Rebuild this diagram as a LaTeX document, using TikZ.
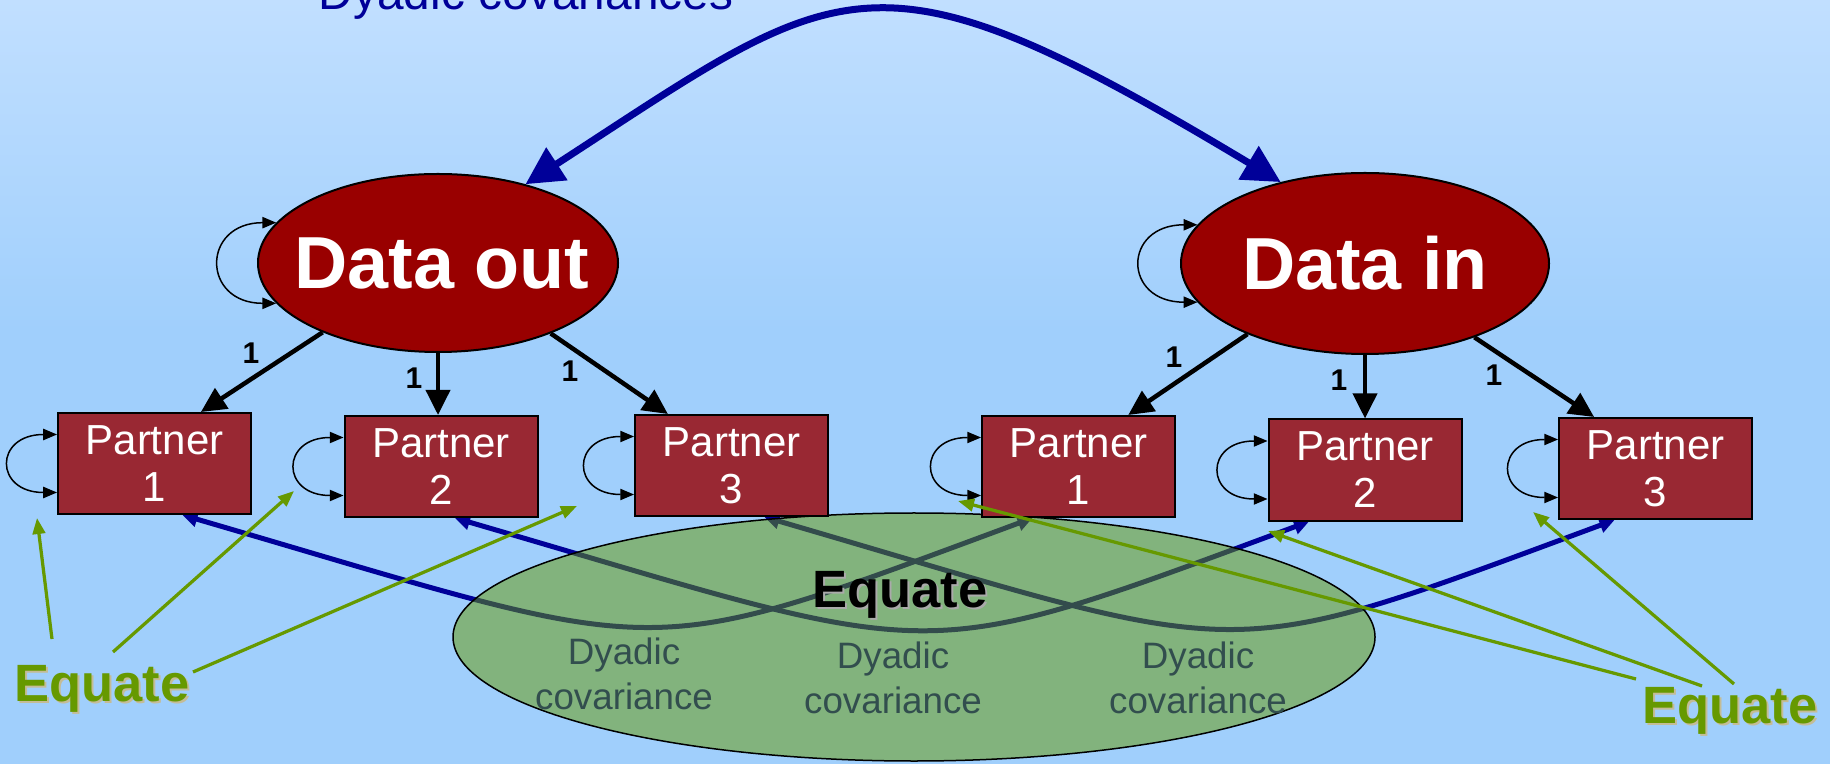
\documentclass[tikz,border=0pt]{standalone}
\usepackage{fontspec}
\setmainfont{Liberation Sans}
\usetikzlibrary{arrows.meta,calc,shapes.geometric}
\definecolor{bgtop}{RGB}{193,223,255}
\definecolor{bgbot}{RGB}{160,207,252}
\definecolor{latred}{RGB}{153,0,0}
\definecolor{boxred}{RGB}{153,40,51}
\definecolor{dblue}{RGB}{0,0,153}
\definecolor{eqgreen}{RGB}{102,153,0}
\definecolor{slate}{RGB}{50,78,78}
\definecolor{tanshadow}{RGB}{196,188,150}
\definecolor{grayshadow}{RGB}{170,170,170}
\pgfdeclarelayer{back}
\pgfdeclarelayer{curves}
\pgfdeclarelayer{veil}
\pgfsetlayers{back,curves,veil,main}
\begin{document}
\begin{tikzpicture}[x=0.4pt,y=-0.4pt,
  latent/.style={ellipse,draw=black,line width=0.8pt,fill=latred,inner sep=0pt},
  bigtext/.style={text=white,font=\fontsize{29.5}{33}\selectfont\bfseries,inner sep=0pt},
  obsbox/.style={rectangle,draw=black,line width=0.8pt,fill=boxred,minimum width=77.2pt,minimum height=40.4pt,inner sep=0pt,text=white,align=center,font=\fontsize{16.8}{18.8}\selectfont},
  loading/.style={line width=1.8pt,-{Triangle[length=10pt,width=9.5pt]}},
  onelabel/.style={font=\fontsize{12}{14}\selectfont\bfseries,inner sep=0pt},
  selfloop/.style={line width=0.6pt,{Triangle[length=5.5pt,width=4.5pt]}-{Triangle[length=5.5pt,width=4.5pt]}},
  dyad/.style={dblue,line width=2pt,{Triangle[length=6pt,width=6pt]}-{Triangle[length=6pt,width=6pt]}},
  bigcov/.style={dblue,line width=2.8pt,{Triangle[length=15pt,width=15pt]}-{Triangle[length=15pt,width=15pt]}},
  eqarrow/.style={eqgreen,line width=1.3pt,-{Triangle[length=6.4pt,width=5pt]}},
  eqtext/.style={font=\fontsize{21}{24}\selectfont\bfseries,inner sep=0pt,anchor=base},
  covtext/.style={text=slate,align=center,font=\fontsize{14.7}{18}\selectfont,inner sep=0pt}
]
\useasboundingbox (0,0) rectangle (1830,764);
\begin{pgfonlayer}{back}
\fill[bgbot] (0,0) rectangle (1830,764);
\shade[top color=bgtop,bottom color=bgbot] (0,0) rectangle (1830,330);
\end{pgfonlayer}

% top label
\node[text=dblue,font=\fontsize{19.1}{22}\selectfont,anchor=base,inner sep=0pt] (toplab) at (526,10) {Dyadic covariances};

% latent variables
\node[latent,minimum width=144pt,minimum height=71.2pt] (dout) at (438,263) {};
\node[bigtext] (douttxt) at ($(dout.center)+(4,0)$) {Data out};
\node[latent,minimum width=147.2pt,minimum height=72.4pt] (din) at (1365,263.5) {};
\node[bigtext] (dintxt) at (din.center) {Data in};

% observed boxes
\node[obsbox] (lp1) at (154.5,463.5) {Partner\\1};
\node[obsbox] (lp2) at (441,466.5) {Partner\\2};
\node[obsbox] (lp3) at (731.5,465.5) {Partner\\3};
\node[obsbox] (rp1) at (1078.5,466.5) {Partner\\1};
\node[obsbox] (rp2) at (1365,470) {Partner\\2};
\node[obsbox] (rp3) at (1655.5,468.5) {Partner\\3};

% self loops
\foreach \n in {lp1,lp2,lp3,rp1,rp2,rp3}
  \draw[selfloop] ($(\n.west)+(0,-29)$) .. controls +(-63,0) and +(-63,0) .. ($(\n.west)+(0,29)$);
\draw[selfloop] (dout.166) .. controls +(-75,0) and +(-75,0) .. (dout.194);
\draw[selfloop] (din.167) .. controls +(-75,0) and +(-75,0) .. (din.193);

% loadings
\draw[loading] (dout.211) -- (lp1.48);
\draw[loading] (dout.south) -- (dout.south |- lp2.north);
\draw[loading] (dout.328) -- (lp3.141);
\draw[loading] (din.211) -- (rp1.46);
\draw[loading] (din.south) -- (din.south |- rp2.north);
\draw[loading] (din.326) -- (rp3.140);
\node[onelabel] (l1) at (251,353) {1};
\node[onelabel] (l2) at (414,378) {1};
\node[onelabel] (l3) at (570,371) {1};
\node[onelabel] (l4) at (1174,357) {1};
\node[onelabel] (l5) at (1339,380) {1};
\node[onelabel] (l6) at (1494,375) {1};

% big covariance between latents
\draw[bigcov] (dout.42) .. controls +(319,-207) and +(-411,-247) .. (din.136);

% dyadic covariances
\begin{pgfonlayer}{curves}
\draw[dyad] ($(lp1.south)+(28,0)$) .. controls +(494,144) and +(-403,149) .. ($(rp1.south)+(-46,0)$);
\draw[dyad] ($(lp2.south)+(14,0)$) .. controls +(494,144) and +(-403,149) .. ($(rp2.south)+(-56,0)$);
\draw[dyad] ($(lp3.south)+(33,0)$) .. controls +(494,144) and +(-403,149) .. ($(rp3.south)+(-41,0)$);
\end{pgfonlayer}
\begin{pgfonlayer}{veil}
\node[ellipse,draw=black,line width=0.6pt,fill=eqgreen,fill opacity=0.5,draw opacity=1,minimum width=368.8pt,minimum height=99.2pt,inner sep=0pt] (cov) at (914,637) {};
\end{pgfonlayer}

% texts in ellipse
\node[eqtext,text=grayshadow] (eqCs) at (902,609) {Equate};
\node[eqtext] (eqC) at ($(eqCs.base)+(-2,-2)$) {Equate};
\node[covtext] (dc1) at (624,674) {Dyadic\\covariance};
\node[covtext] (dc2) at (893,678) {Dyadic\\covariance};
\node[covtext] (dc3) at (1198,678) {Dyadic\\covariance};

% Equate labels
\node[eqtext,text=tanshadow] (eqLs) at (104,703) {Equate};
\node[eqtext,text=eqgreen] (eqL) at ($(eqLs.base)+(-2,-2)$) {Equate};
\node[eqtext,text=tanshadow] (eqRs) at (1732,725) {Equate};
\node[eqtext,text=eqgreen] (eqR) at ($(eqRs.base)+(-2,-2)$) {Equate};

\coordinate (gL1a) at (52,639);   \coordinate (gL1b) at (37,518);
\coordinate (gL2a) at (113,652);  \coordinate (gL2b) at (294,491);
\coordinate (gL3a) at (193,672);  \coordinate (gL3b) at (577,506);
\coordinate (gR1a) at (1636,679); \coordinate (gR1b) at (958,501);
\coordinate (gR2a) at (1702,686); \coordinate (gR2b) at (1268,531);
\coordinate (gR3a) at (1734,684); \coordinate (gR3b) at (1533,512);
\draw[eqarrow] (gL1a) -- (gL1b);
\draw[eqarrow] (gL2a) -- (gL2b);
\draw[eqarrow] (gL3a) -- (gL3b);
\draw[eqarrow] (gR1a) -- (gR1b);
\draw[eqarrow] (gR2a) -- (gR2b);
\draw[eqarrow] (gR3a) -- (gR3b);
\end{tikzpicture}
\end{document}
